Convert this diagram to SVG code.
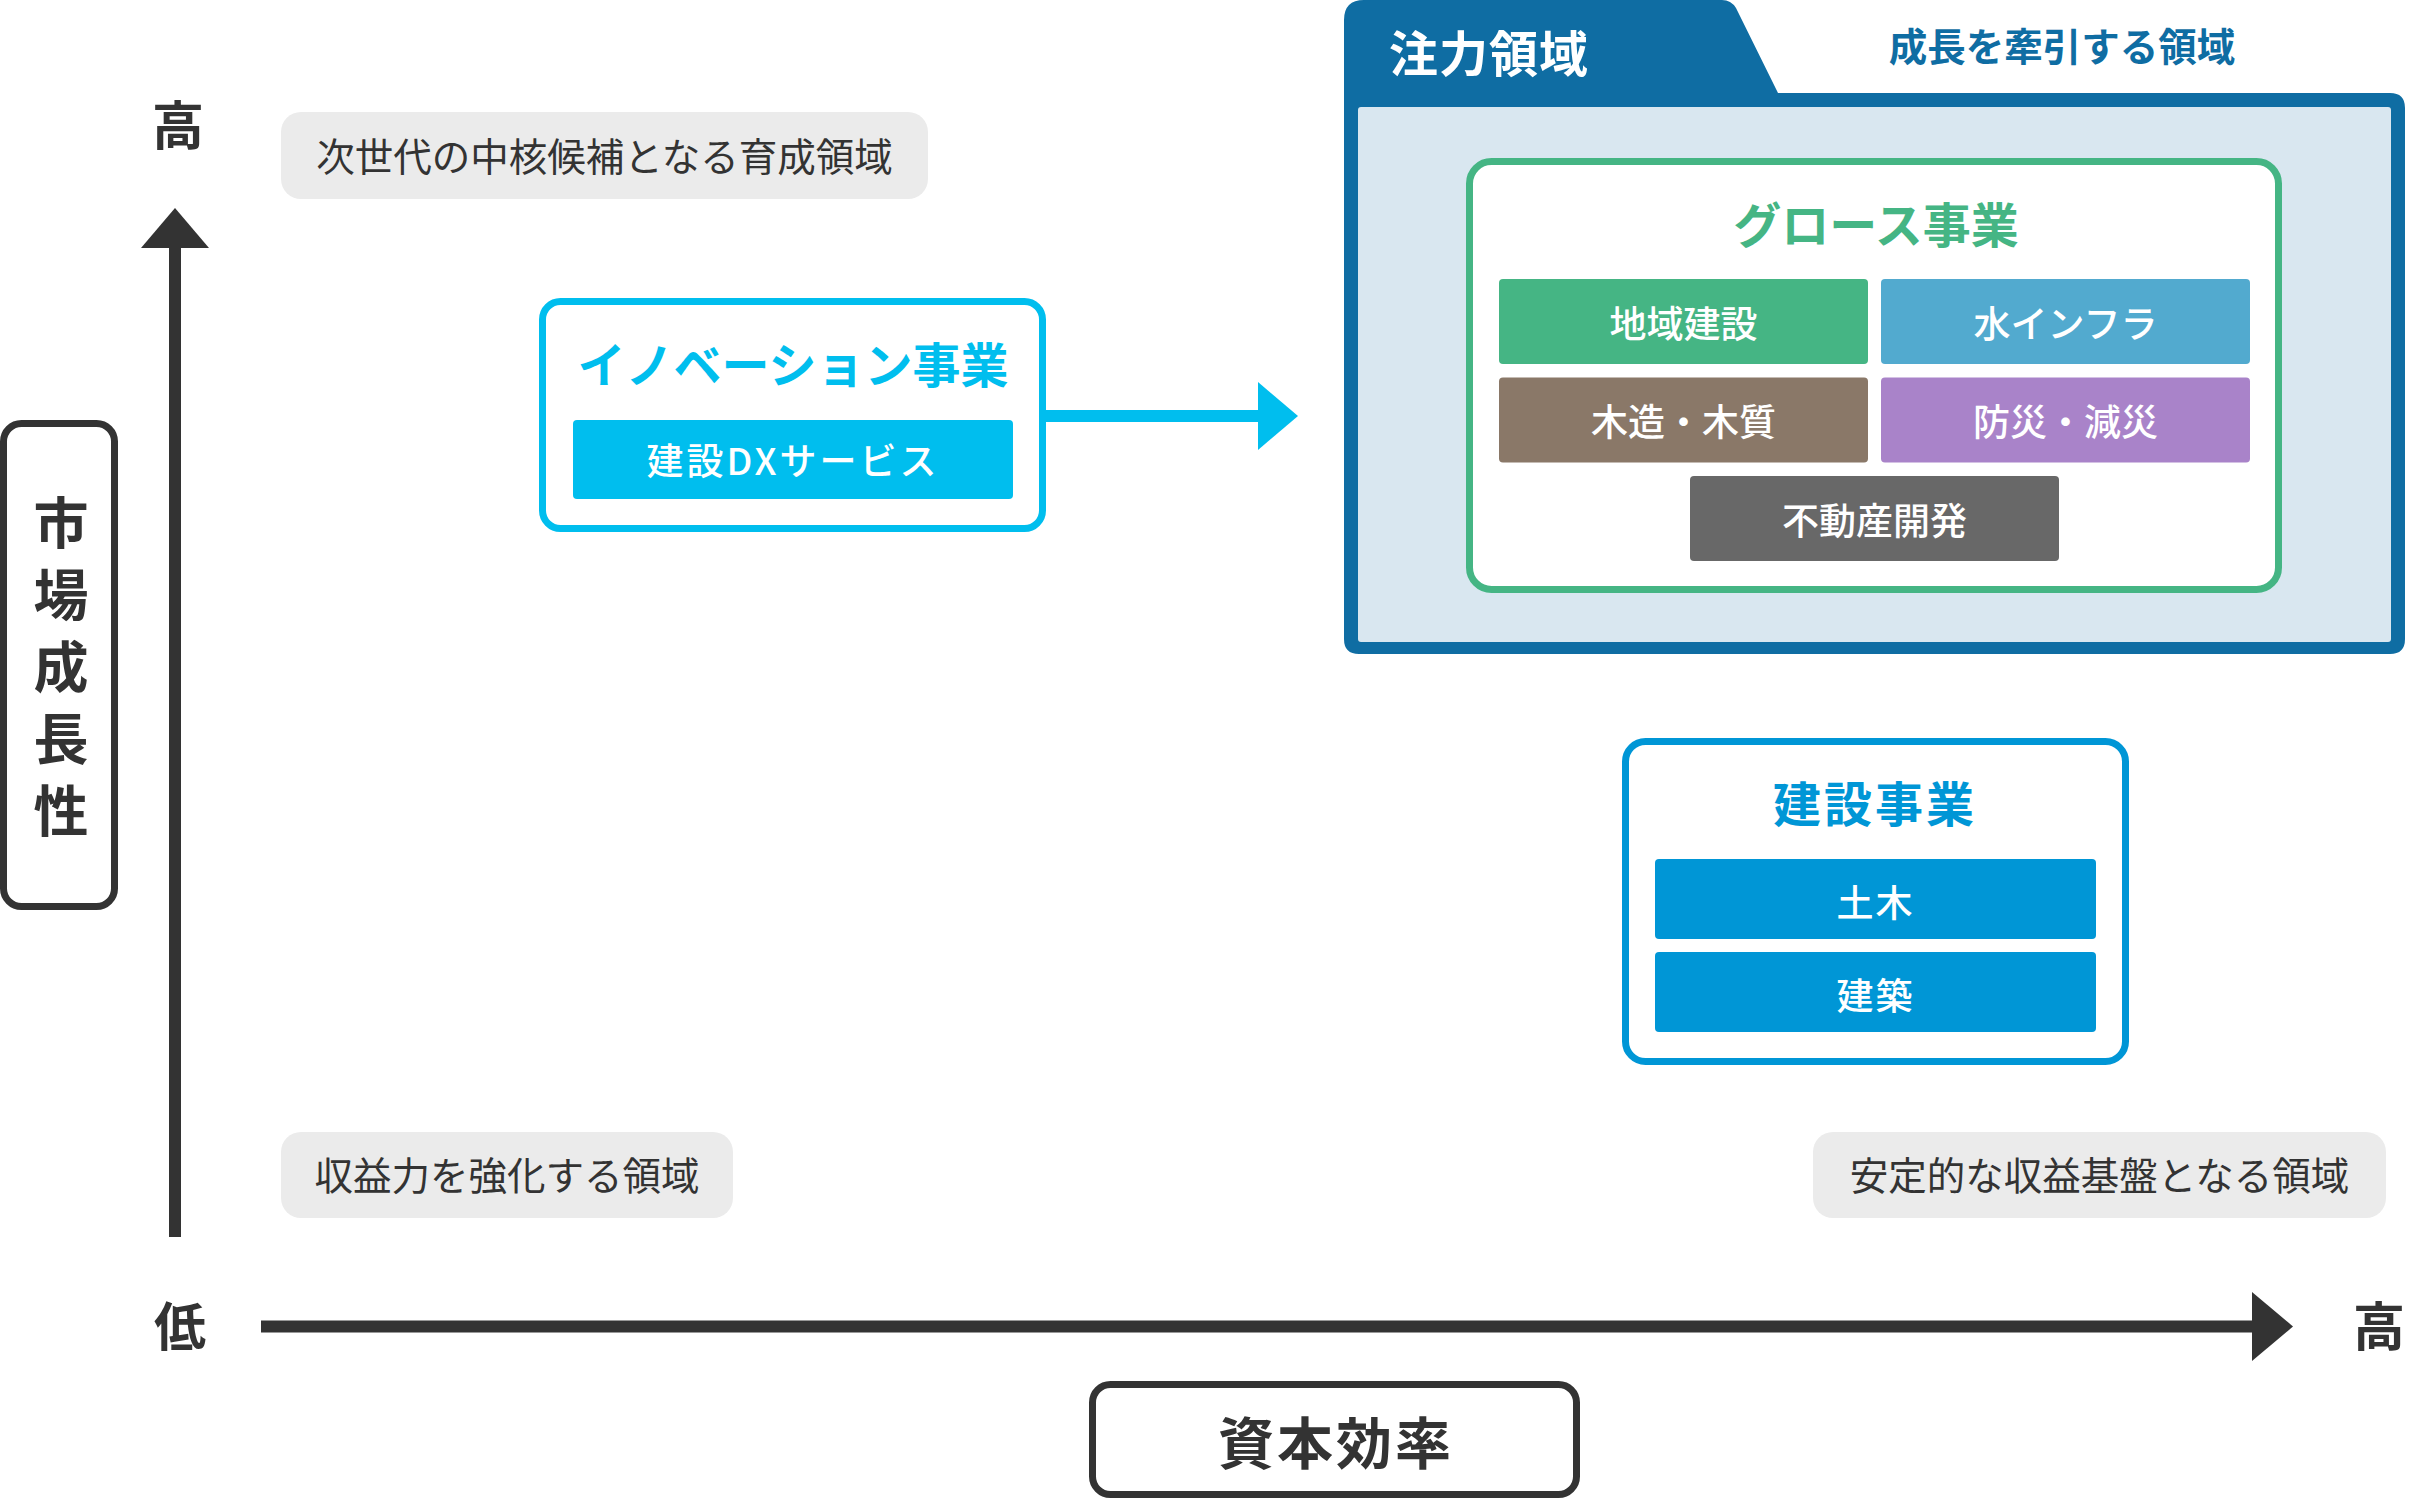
<svg xmlns="http://www.w3.org/2000/svg" width="2410" height="1499" viewBox="0 0 2410 1499">
<style>
text { font-family: "Noto Sans CJK JP", "Noto Sans", sans-serif; dominant-baseline: central; text-anchor: middle; }
.axis-label { font-size: 52px; font-weight: 700; fill: #333333; }
.vtext { font-size: 55px; font-weight: 700; fill: #333333; writing-mode: vertical-rl; letter-spacing: 17px; }
.zone { fill: #EBEBEB; }
.zone-text { font-size: 38.5px; font-weight: 400; fill: #333333; }
.tile-text { font-size: 37px; font-weight: 500; fill: #FFFFFF; }
.head { font-size: 48px; font-weight: 700; }
</style>

<g id="connectors">
  <rect x="169" y="246" width="12" height="991" fill="#333333"/>
  <polygon points="141,248 175,208 209,248" fill="#333333"/>
  <rect x="261" y="1320.5" width="1993" height="12" fill="#333333"/>
  <polygon points="2252,1292 2293,1326.5 2252,1361" fill="#333333"/>
  <rect x="1044" y="410" width="216" height="12" fill="#00BEEE"/>
  <polygon points="1258,382 1298,416 1258,450" fill="#00BEEE"/>
</g>

<g id="axis-y-high"><text class="axis-label" x="178" y="122">高</text></g>
<g id="axis-x-low"><text class="axis-label" x="180" y="1323">低</text></g>
<g id="axis-x-high"><text class="axis-label" x="2379" y="1323">高</text></g>

<g id="axis-y-title">
  <rect x="3.5" y="423.5" width="111" height="483" rx="18" fill="#FFFFFF" stroke="#333333" stroke-width="7"/>
  <text class="vtext" x="61" y="675">市場成長性</text>
</g>

<g id="axis-x-title">
  <rect x="1092.5" y="1384.5" width="484" height="110" rx="18" fill="#FFFFFF" stroke="#333333" stroke-width="7"/>
  <text x="1336" y="1439" font-size="56" font-weight="700" fill="#333333" letter-spacing="3">資本効率</text>
</g>

<g id="zone-nurture">
  <rect class="zone" x="281" y="112" width="647" height="87" rx="20"/>
  <text class="zone-text" x="604.5" y="154">次世代の中核候補となる育成領域</text>
</g>
<g id="zone-profit">
  <rect class="zone" x="281" y="1132" width="452" height="86" rx="20"/>
  <text class="zone-text" x="507" y="1173">収益力を強化する領域</text>
</g>
<g id="zone-stable">
  <rect class="zone" x="1813" y="1132" width="573" height="86" rx="20"/>
  <text class="zone-text" x="2099.5" y="1173">安定的な収益基盤となる領域</text>
</g>

<g id="innovation">
  <rect x="542.5" y="301.5" width="500" height="227" rx="18" fill="#FFFFFF" stroke="#00BEEE" stroke-width="7"/>
  <text class="head" x="793" y="362" font-size="45" fill="#00BEEE">イノベーション事業</text>
  <rect x="573" y="420" width="440" height="79" rx="4" fill="#00BEEE"/>
  <text class="tile-text" x="793" y="459" letter-spacing="3">建設DXサービス</text>
</g>

<g id="focus-area">
  <path d="M1344,20 Q1344,0 1364,0 L1722,0 Q1731,0 1736,8 L1778,93 L2390,93 Q2405,93 2405,108 L2405,639 Q2405,654 2390,654 L1359,654 Q1344,654 1344,639 Z" fill="#0F6DA3"/>
  <rect x="1358" y="107" width="1033" height="535" rx="3" fill="#D9E7F0"/>
  <text x="1489" y="50" font-size="49" font-weight="700" fill="#FFFFFF" letter-spacing="1">注力領域</text>
  <text x="2062" y="44" font-size="38.5" font-weight="700" fill="#0F6DA3">成長を牽引する領域</text>
</g>

<g id="growth">
  <rect x="1469.5" y="161.5" width="809" height="428" rx="22" fill="#FFFFFF" stroke="#45B584" stroke-width="7"/>
  <text class="head" x="1876" y="222" fill="#45B584">グロース事業</text>
</g>
<g id="tile-regional">
  <rect x="1499" y="279" width="369" height="85" rx="4" fill="#45B584"/>
  <text class="tile-text" x="1683.5" y="322">地域建設</text>
</g>
<g id="tile-water">
  <rect x="1881" y="279" width="369" height="85" rx="4" fill="#52AACF"/>
  <text class="tile-text" x="2065.5" y="322">水インフラ</text>
</g>
<g id="tile-wood">
  <rect x="1499" y="377.5" width="369" height="85" rx="4" fill="#8A7868"/>
  <text class="tile-text" x="1683.5" y="420">木造・木質</text>
</g>
<g id="tile-disaster">
  <rect x="1881" y="377.5" width="369" height="85" rx="4" fill="#A983C9"/>
  <text class="tile-text" x="2065.5" y="420">防災・減災</text>
</g>
<g id="tile-realestate">
  <rect x="1690" y="476" width="369" height="85" rx="4" fill="#686868"/>
  <text class="tile-text" x="1874.5" y="518.5">不動産開発</text>
</g>

<g id="construction">
  <rect x="1625.5" y="741.5" width="500" height="320" rx="20" fill="#FFFFFF" stroke="#0096D6" stroke-width="7"/>
  <text class="head" x="1875" y="801" fill="#0096D6" letter-spacing="3">建設事業</text>
</g>
<g id="tile-civil">
  <rect x="1655" y="859" width="441" height="80" rx="4" fill="#0096D6"/>
  <text class="tile-text" x="1875.5" y="901" letter-spacing="2">土木</text>
</g>
<g id="tile-building">
  <rect x="1655" y="952" width="441" height="80" rx="4" fill="#0096D6"/>
  <text class="tile-text" x="1875.5" y="994" letter-spacing="2">建築</text>
</g>
</svg>
